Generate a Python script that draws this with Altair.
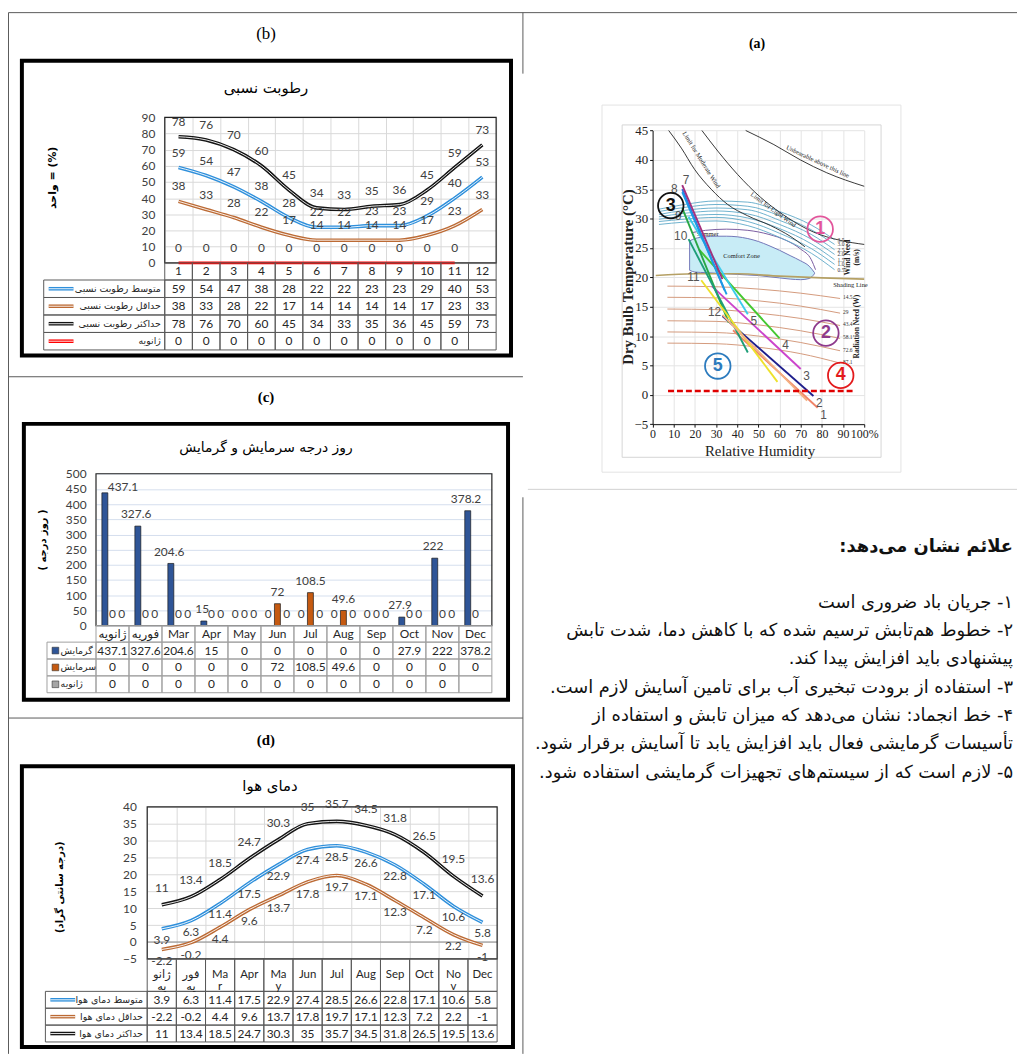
import altair as alt
import pandas as pd

OX, OY = 8, 8
W, H = 1017, 1050


def X(v):
    return v - OX


def Y(v):
    return v - OY


FA = "DejaVu Sans"
NUM = "Lato, DejaVu Sans"
SERIF = "Liberation Serif"
SANS = "Liberation Sans"

months = [1, 2, 3, 4, 5, 6, 7, 8, 9, 10, 11, 12]

# ---------------- (b) relative humidity ----------------
b_label = "(b)"
b_title = "رطوبت نسبی"
b_ytitle = "واحد = (%)"
b_names = ["متوسط رطوبت نسبی", "حداقل رطوبت نسبی", "حداکثر رطوبت نسبی", "ژانویه"]
b_months = ["1", "2", "3", "4", "5", "6", "7", "8", "9", "10", "11", "12"]
rh_avg = [59, 54, 47, 38, 28, 22, 22, 23, 23, 29, 40, 53]
rh_min = [38, 33, 28, 22, 17, 14, 14, 14, 14, 17, 23, 33]
rh_max = [78, 76, 70, 60, 45, 34, 33, 35, 36, 45, 59, 73]
rh_jan = [0, 0, 0, 0, 0, 0, 0, 0, 0, 0, 0, None]
b_yticks = [0, 10, 20, 30, 40, 50, 60, 70, 80, 90]
b_colors = ["#2E8FDB", "#BC6A34", "#141414", "#FF0000"]

# ---------------- (c) degree days ----------------
c_label = "(c)"
c_title = "روز درجه سرمایش و گرمایش"
c_ytitle = "( روز درجه )"
c_names = ["گرمایش", "سرمایش", "ژانویه"]
c_months = ["ژانویه", "فوریه", "Mar", "Apr", "May", "Jun", "Jul", "Aug", "Sep", "Oct", "Nov", "Dec"]
heating = [437.1, 327.6, 204.6, 15, 0, 0, 0, 0, 0, 27.9, 222, 378.2]
cooling = [0, 0, 0, 0, 0, 72, 108.5, 49.6, 0, 0, 0, 0]
c_jan = [0, 0, 0, 0, 0, 0, 0, 0, 0, 0, 0, None]
c_yticks = [0, 50, 100, 150, 200, 250, 300, 350, 400, 450, 500]
c_colors = ["#2F5597", "#C55A11", "#A5A5A5"]

# ---------------- (d) air temperature ----------------
d_label = "(d)"
d_title = "دمای هوا"
d_ytitle = "(درجه سانتی گراد)"
d_names = ["متوسط دمای هوا", "حداقل دمای هوا", "حداکثر دمای هوا"]
d_months = ["ژانو\nیه", "فور\nیه", "Ma\nr", "Apr", "Ma\ny", "Jun", "Jul", "Aug", "Sep", "Oct", "No\nv", "Dec"]
t_avg = [3.9, 6.3, 11.4, 17.5, 22.9, 27.4, 28.5, 26.6, 22.8, 17.1, 10.6, 5.8]
t_min = [-2.2, -0.2, 4.4, 9.6, 13.7, 17.8, 19.7, 17.1, 12.3, 7.2, 2.2, -1]
t_max = [11, 13.4, 18.5, 24.7, 30.3, 35, 35.7, 34.5, 31.8, 26.5, 19.5, 13.6]
d_yticks = [-5, 0, 5, 10, 15, 20, 25, 30, 35, 40]
d_colors = ["#2E8FDB", "#BC6A34", "#141414"]

# ---------------- (a) bioclimatic chart ----------------
a_label = "(a)"
a_xticks = [0, 10, 20, 30, 40, 50, 60, 70, 80, 90, 100]
a_yticks = [-5, 0, 5, 10, 15, 20, 25, 30, 35, 40, 45]
a_ytitle = "Dry Bulb Temperature (°C)"
a_xtitle = "Relative Humidity"
unb_rh = [44, 57.3, 69.8, 82.3, 100]
unb_t = [45.0, 42.6, 40.0, 37.8, 35.5]
lw_rh = [23.3, 30.8, 40.2, 51.1, 63.6, 76.1, 88.6, 100]
lw_t = [45.0, 41.5, 37.5, 33.6, 30.2, 27.7, 26.3, 25.6]
mw_rh = [7.6, 13.6, 19.8, 27.7, 35.5, 44.8, 55.8, 65.0, 72.0]
mw_t = [45.0, 42.0, 38.4, 35.0, 32.4, 30.5, 28.8, 27.0, 25.2]
wind_rh = [3, 15, 30, 45, 60, 75, 86]
wind_t = [
    [31.6, 32.4, 33.0, 32.8, 31.2, 28.9, 26.4],
    [31.2, 31.9, 32.4, 32.1, 30.5, 28.1, 25.6],
    [30.7, 31.4, 31.8, 31.5, 29.7, 27.3, 24.7],
    [30.3, 30.9, 31.3, 30.8, 29.0, 26.5, 23.9],
    [29.9, 30.4, 30.7, 30.1, 28.3, 25.7, 23.0],
    [29.5, 29.9, 30.2, 29.5, 27.5, 24.9, 22.2],
    [29.0, 29.4, 29.6, 28.8, 26.8, 24.1, 21.3],
]
wind_lab = ["3.5", "3.0", "2.5", "2.0", "1.5", "1.0", "0.5"]
cz_rh = [17.5, 20, 25, 30, 35, 40, 45, 50, 55, 60, 65, 70, 74, 76.5]
cz_top = [26.2, 26.6, 26.9, 27.0, 27.0, 26.9, 26.6, 26.1, 25.4, 24.6, 23.7, 22.8, 21.9, 20.8]
cz_bot = [21.2, 20.9, 20.8, 20.7, 20.6, 20.5, 20.4, 20.3, 20.1, 19.9, 19.7, 19.6, 19.8, 20.6]
sum_rh = [18.5, 25, 35, 45, 55, 63, 70, 75, 77]
sum_t = [27.6, 28.0, 28.2, 28.0, 27.3, 26.3, 24.8, 23.0, 21.3]
shade_rh = [1.5, 20, 40, 60, 80, 100]
shade_t = [20.3, 20.6, 20.6, 20.2, 19.9, 19.7]
rad_rh = [7, 30, 50, 70, 88.6]
rad_t = [
    [18.5, 18.4, 18.0, 17.3, 16.4],
    [16.6, 16.5, 16.0, 15.1, 13.9],
    [14.6, 14.5, 13.9, 13.0, 11.8],
    [12.6, 12.5, 11.9, 10.9, 9.6],
    [10.7, 10.6, 10.0, 8.9, 7.5],
    [8.8, 8.7, 8.1, 7.0, 5.4],
]
rad_lab = ["14.5", "29", "43.4", "58.1", "72.6", "87.1"]
frz_rh = [7.3, 94.8]
frz_t = [0.63, 0.63]
mo_colors = ["#F08468", "#1E1E8C", "#CC44CC", "#44C830", "#3CCBEB", "#2F6FE0",
             "#A3307D", "#1C9CE6", "#28A745", "#1E9E78", "#EDE12B", "#F4B183"]
lab_end_months = [1, 2, 3, 4, 5]
lab_topleft_months = [8, 10, 11, 12]
lab_low_months = [9]
lab_topright_months = [7]
circ_lab = ["1", "2", "3", "4", "5"]
circ_rh = [79.2, 81.9, 8.6, 88.9, 30.8]
circ_t = [28.2, 10.5, 32.2, 3.3, 4.9]
circ_col = ["#E2559B", "#8E3A8C", "#111111", "#E31A1C", "#2C7BBE"]
a_notes = [
    ("Unbearable above this line", 78.0, 39.7, 25),
    ("Limit for Light Wind", 57.0, 31.5, 36),
    ("Limit for Moderate Wind", 23.0, 40.0, 58),
    ("Comfort Zone", 42.0, 23.7, 0),
    ("Summer", 26.0, 27.4, 0),
    ("Shading Line", 93.5, 18.7, 0),
]

# ---------------- text block ----------------
t_head = "علائم نشان می\u200cدهد:"
t_lines = [
    "۱- جریان باد ضروری است",
    "۲- خطوط هم\u200cتابش ترسیم شده که با کاهش دما، شدت تابش",
    "پیشنهادی باید افزایش پیدا کند.",
    "۳- استفاده از برودت تبخیری آب برای تامین آسایش لازم است.",
    "۴- خط انجماد: نشان می\u200cدهد که میزان تابش و استفاده از",
    "تأسیسات گرمایشی فعال باید افزایش یابد تا آسایش برقرار شود.",
    "۵- لازم است که از سیستم\u200cهای تجهیزات گرمایشی استفاده شود.",
]

RLM = "\u200f"
one = pd.DataFrame({"k": [0]})
L = []


def fmt(v):
    if v is None:
        return ""
    f = float(v)
    return str(int(f)) if f.is_integer() else str(v)


def vbox(x0, y0, x1, y1, stroke="black", sw=1.0):
    return alt.Chart(one).mark_rect(fill="white", fillOpacity=0, stroke=stroke, strokeWidth=sw).encode(
        x=alt.value(X(x0)), x2=alt.value(X(x1)), y=alt.value(Y(y0)), y2=alt.value(Y(y1)))


def vline(x0, y0, x1, y1, color="#595959", sw=1.0):
    return alt.Chart(one).mark_rule(color=color, strokeWidth=sw).encode(
        x=alt.value(X(x0)), x2=alt.value(X(x1)), y=alt.value(Y(y0)), y2=alt.value(Y(y1)))


def vtext(s, x, y, size=12, font=FA, weight="normal", angle=0, align="center", color="black", lb=False):
    kw = dict(fontSize=size, font=font, fontWeight=weight, align=align, baseline="middle", color=color)
    if angle:
        kw["angle"] = angle
    if lb:
        kw["lineBreak"] = "\n"
    return alt.Chart(one).mark_text(**kw).encode(x=alt.value(X(x)), y=alt.value(Y(y)), text=alt.value(s))


def band(domain, r0, r1):
    return alt.Scale(type="band", domain=domain, range=[r0, r1], paddingInner=0, paddingOuter=0)


def lin(domain, r0, r1):
    return alt.Scale(type="linear", domain=domain, range=[r0, r1], nice=False, zero=False)


def grid_layer(xband, yscale, x0, ytop, yticks, vgrid, gcolor, labpad):
    df = pd.DataFrame({"m": months, "v": [yticks[0]] * 12})
    xaxis = None
    if vgrid:
        # top-oriented grid axis: Vega maps its grid lines onto the y range directly
        xaxis = alt.Axis(orient="top", offset=-Y(ytop), grid=True, gridColor=gcolor, tickBand="extent",
                         labels=False, ticks=False, domain=False, title=None)
    yaxis = alt.Axis(orient="left", offset=-X(x0), values=yticks, grid=True, gridColor=gcolor, ticks=False,
                     domain=False, labelPadding=labpad, labelFont=NUM, labelFontSize=12, labelColor="#404040",
                     labelOverlap=False, title=None)
    return alt.Chart(df).mark_point(opacity=0).encode(
        x=alt.X("m:O", scale=xband, axis=xaxis), y=alt.Y("v:Q", scale=yscale, axis=yaxis))


def long_df(names, series):
    rows = []
    for n, arr in zip(names, series):
        for m, v in zip(months, arr):
            if v is not None:
                rows.append({"m": m, "v": v, "s": n, "t": fmt(v)})
    return pd.DataFrame(rows)


def double_lines(df, xs, ys, names, colors, sw=3.6):
    cs = alt.Scale(domain=names, range=colors)
    ex = alt.X("m:Q", scale=xs, axis=None)
    ey = alt.Y("v:Q", scale=ys, axis=None)
    outer = alt.Chart(df).mark_line(strokeWidth=sw, interpolate="monotone").encode(
        x=ex, y=ey, color=alt.Color("s:N", scale=cs, legend=None))
    inner = alt.Chart(df).mark_line(strokeWidth=0.9, interpolate="monotone", color="white").encode(
        x=ex, y=ey, detail="s:N")
    return [outer, inner]


def build_table(mlabels, names, series, xband, lab_x0, lab_x1, my0, my1, ry0, ry1, stroke, colors, swatch,
                text_x, text_align, mline=False, lab_size=9.5):
    res = []
    ms = band(["m"], Y(my0), Y(my1))
    rs = band(names, Y(ry0), Y(ry1))
    ls = band(["lab"], X(lab_x0), X(lab_x1))
    mdf = pd.DataFrame({"m": months, "r": ["m"] * 12, "t": mlabels})
    cdf = pd.DataFrame([{"m": m, "r": n, "t": fmt(v)} for n, arr in zip(names, series) for m, v in zip(months, arr)])
    ldf = pd.DataFrame({"c": ["lab"] * len(names), "r": names})
    rk = dict(fill="white", fillOpacity=0, stroke=stroke, strokeWidth=1)
    xm = alt.X("m:O", scale=xband, axis=None)
    xmc = alt.X("m:O", scale=xband, axis=None, bandPosition=0.5)
    res.append(alt.Chart(mdf).mark_rect(**rk).encode(x=xm, y=alt.Y("r:N", scale=ms, axis=None)))
    res.append(alt.Chart(cdf).mark_rect(**rk).encode(x=xm, y=alt.Y("r:N", scale=rs, axis=None)))
    res.append(alt.Chart(ldf).mark_rect(**rk).encode(x=alt.X("c:N", scale=ls, axis=None),
                                                     y=alt.Y("r:N", scale=rs, axis=None)))
    tk = dict(font=NUM, fontSize=12, color="#262626", baseline="middle")
    if mline:
        tk.update(lineBreak="\n", lineHeight=12, fontSize=11.5)
    res.append(alt.Chart(mdf).mark_text(**tk).encode(
        x=xmc, y=alt.Y("r:N", scale=ms, axis=None, bandPosition=0.5), text="t:N"))
    yc = alt.Y("r:N", scale=rs, axis=None, bandPosition=0.5)
    res.append(alt.Chart(cdf).mark_text(font=NUM, fontSize=12, color="#262626", baseline="middle").encode(
        x=xmc, y=yc, text="t:N"))
    cs = alt.Scale(domain=names, range=colors)
    if swatch == "line":
        res.append(alt.Chart(ldf).mark_rule(strokeWidth=3.6).encode(
            x=alt.value(X(lab_x0 + 5)), x2=alt.value(X(lab_x0 + 30)), y=yc,
            color=alt.Color("r:N", scale=cs, legend=None)))
        res.append(alt.Chart(ldf).mark_rule(strokeWidth=0.9, color="white").encode(
            x=alt.value(X(lab_x0 + 5)), x2=alt.value(X(lab_x0 + 30)), y=yc))
    else:
        res.append(alt.Chart(ldf).mark_square(size=45, opacity=1, stroke="#333333", strokeWidth=0.6).encode(
            x=alt.value(X(lab_x0 + 8.5)), y=yc, fill=alt.Fill("r:N", scale=cs, legend=None)))
    res.append(alt.Chart(ldf).mark_text(font=FA, fontSize=lab_size, align=text_align, baseline="middle",
                                        color="#262626").encode(x=alt.value(X(text_x)), y=yc, text="r:N"))
    return res


# ================= outer frame =================
L.append(vline(8.5, 8.5, 1025, 8.5))
L.append(vline(8.5, 8.5, 8.5, 1058))
L.append(vline(8.5, 375.5, 527, 375.5))
L.append(vline(8.5, 719.5, 527, 719.5))
L.append(vline(527, 8.5, 527, 70))
L.append(vline(527, 497, 527, 1058))
L.append(vline(532, 489, 1025, 489, color="#d0d0d0"))

# ================= panel (b) =================
bx0, bx1, by0, by1 = 166, 500, 260.7, 114
b_band = band(months, X(bx0), X(bx1))
b_x = lin([0.5, 12.5], X(bx0), X(bx1))
b_y = lin([0, 90], Y(by0), Y(by1))
L.append(vtext(b_label, 268, 30, size=17, font=SERIF))
L.append(vbox(22, 57, 515, 354, sw=4))
L.append(vtext(b_title, 268, 85, size=15))
L.append(vtext(b_ytitle, 53, 175, size=11, weight="bold", angle=270))
L.append(grid_layer(b_band, b_y, bx0, by1, b_yticks, True, "#d9d9d9", 10))
L.append(vbox(bx0, by1, bx1, by0, stroke="#222222", sw=1.2))
b_df = long_df(b_names[:3], [rh_avg, rh_min, rh_max])
L.extend(double_lines(b_df, b_x, b_y, b_names[:3], b_colors[:3]))
b_jan_df = long_df([b_names[3]], [rh_jan])
L.append(alt.Chart(b_jan_df).mark_line(color="#FF0000", strokeWidth=2.6).encode(
    x=alt.X("m:Q", scale=b_x, axis=None), y=alt.Y("v:Q", scale=b_y, axis=None)))
b_all = long_df(b_names, [rh_avg, rh_min, rh_max, rh_jan])
L.append(alt.Chart(b_all).mark_text(font=NUM, fontSize=12, color="#404040", dy=-15).encode(
    x=alt.X("m:Q", scale=b_x, axis=None), y=alt.Y("v:Q", scale=b_y, axis=None), text="t:N"))
L.extend(build_table(b_months, b_names, [rh_avg, rh_min, rh_max, rh_jan], b_band, 44, bx0, by0, 278,
                     278, 348.5, "#595959", b_colors, "line", 162, "right"))

# ================= panel (c) =================
cx0, cx1, cy0, cy1 = 96.7, 495.7, 626.3, 473.3
c_band = band(months, X(cx0), X(cx1))
c_y = lin([0, 500], Y(cy0), Y(cy1))
L.append(vtext(c_label, 268, 396, size=15, font=SERIF, weight="bold"))
L.append(vbox(24, 423, 512, 701, sw=4))
L.append(vtext(c_title, 268, 447, size=14))
L.append(vtext(c_ytitle, 43, 540, size=10, weight="bold", angle=270))
L.append(grid_layer(c_band, c_y, cx0, cy1, c_yticks, False, "#d5dfee", 10))
L.append(vbox(cx0, cy1, cx1, cy0, stroke="#222222", sw=1.2))
c_all = long_df(c_names, [heating, cooling, c_jan])
c_bars = c_all[c_all["v"] > 0]
c_off = alt.Scale(domain=c_names, paddingInner=0.22, paddingOuter=0.77)
L.append(alt.Chart(c_bars).mark_bar(stroke="#1a1a1a", strokeWidth=0.7).encode(
    x=alt.X("m:O", scale=c_band, axis=None),
    xOffset=alt.XOffset("s:N", scale=c_off),
    y=alt.Y("v:Q", scale=c_y, axis=None),
    fill=alt.Fill("s:N", scale=alt.Scale(domain=c_names, range=c_colors), legend=None)))
c_lab_low = c_all[c_all["v"] < 420]
c_lab_high = c_all[c_all["v"] >= 420]
L.append(alt.Chart(c_lab_low).mark_text(font=NUM, fontSize=12, color="#404040", dy=-12).encode(
    x=alt.X("m:O", scale=c_band, axis=None),
    xOffset=alt.XOffset("s:N", scale=c_off),
    y=alt.Y("v:Q", scale=c_y, axis=None), text="t:N"))
# label near the plot top is nudged to the right of its bar, as in the source chart
L.append(alt.Chart(c_lab_high).mark_text(font=NUM, fontSize=12, color="#404040", dy=-6, dx=20).encode(
    x=alt.X("m:O", scale=c_band, axis=None),
    xOffset=alt.XOffset("s:N", scale=c_off),
    y=alt.Y("v:Q", scale=c_y, axis=None), text="t:N"))
L.extend(build_table(c_months, c_names, [heating, cooling, c_jan], c_band, 47.3, cx0, cy0, 643,
                     643, 694, "#a0a0a0", c_colors, "square", 61, "left"))

# ================= panel (d) =================
dx0, dx1, dy0, dy1 = 148.3, 501, 962.3, 809
d_band = band(months, X(dx0), X(dx1))
d_x = lin([0.5, 12.5], X(dx0), X(dx1))
d_y = lin([-5, 40], Y(dy0), Y(dy1))
L.append(vtext(d_label, 268, 742, size=15, font=SERIF, weight="bold"))
L.append(vbox(22, 768, 517, 1051, sw=4))
L.append(vtext(d_title, 272, 788, size=15))
L.append(vtext(d_ytitle, 60, 890, size=10, weight="bold", angle=270))
L.append(grid_layer(d_band, d_y, dx0, dy1, d_yticks, True, "#d9d9d9", 11))
L.append(alt.Chart(pd.DataFrame({"v": [0]})).mark_rule(color="#8c8c8c", strokeWidth=1).encode(
    y=alt.Y("v:Q", scale=d_y, axis=None), x=alt.value(X(dx0)), x2=alt.value(X(dx1))))
L.append(vbox(dx0, dy1, dx1, dy0, stroke="#222222", sw=1.2))
d_df = long_df(d_names, [t_avg, t_min, t_max])
L.extend(double_lines(d_df, d_x, d_y, d_names, d_colors))
for name, arr, off in [(d_names[2], t_max, -17), (d_names[0], t_avg, 11), (d_names[1], t_min, 12)]:
    L.append(alt.Chart(long_df([name], [arr])).mark_text(font=NUM, fontSize=12, color="#404040", dy=off).encode(
        x=alt.X("m:Q", scale=d_x, axis=None), y=alt.Y("v:Q", scale=d_y, axis=None), text="t:N"))
L.extend(build_table(d_months, d_names, [t_avg, t_min, t_max], d_band, 45.7, dx0, dy0, 995,
                     995, 1046, "#595959", d_colors, "line", 144, "right", mline=True))

# ================= panel (a) =================
ax0, ax1, ay0, ay1 = 657.7, 871, 423.3, 127.3
a_x = lin([0, 100], X(ax0), X(ax1))
a_y = lin([-5, 45], Y(ay0), Y(ay1))
L.append(vtext(a_label, 763, 40, size=14, font=SERIF, weight="bold"))
L.append(vbox(606.7, 101.7, 908, 471.7, stroke="#e3e3e3"))
L.append(vbox(627, 121.7, 888, 456.7, stroke="#d6d6d6"))
a_axis_df = pd.DataFrame({"x": [0], "y": [0]})
# grid (top oriented so the grid lines sit on the plot's y range)
L.append(alt.Chart(a_axis_df).mark_point(opacity=0).encode(
    x=alt.X("x:Q", scale=a_x, axis=alt.Axis(
        orient="top", offset=-Y(ay1), values=a_xticks, grid=True, gridColor="#e4e4e4",
        labels=False, ticks=False, domain=False, title=None)),
    y=alt.Y("y:Q", scale=a_y, axis=alt.Axis(
        orient="left", offset=-X(ax0), values=a_yticks, grid=True, gridColor="#e4e4e4",
        domainColor="#111111", tickColor="#111111", tickSize=3, labelFont=SERIF, labelFontSize=13,
        labelColor="#222222", labelPadding=2, labelOverlap=False, title=None))))
# bottom axis with labels
L.append(alt.Chart(a_axis_df).mark_point(opacity=0).encode(
    x=alt.X("x:Q", scale=a_x, axis=alt.Axis(
        orient="bottom", offset=Y(ay0) - H, values=a_xticks, grid=False,
        domainColor="#111111", tickColor="#111111", tickSize=3, labelFont=SERIF, labelFontSize=12,
        labelColor="#222222", labelPadding=1, labelFlush=False, labelOverlap=False, title=None,
        labelExpr="datum.value == 100 ? '100%' : datum.label")),
    y=alt.Y("y:Q", scale=a_y, axis=None)))
L.append(vtext(a_ytitle, 633, 275, size=15, font=SERIF, weight="bold", angle=270, color="#222222"))
L.append(vtext(a_xtitle, 766, 450, size=15, font=SERIF, color="#222222"))

ex_a = lambda f: alt.X(f, scale=a_x, axis=None)
ey_a = lambda f: alt.Y(f, scale=a_y, axis=None)

# comfort zone
cz_df = pd.DataFrame({"rh": cz_rh, "top": cz_top, "bot": cz_bot})
L.append(alt.Chart(cz_df).mark_area(fill="#c8ecf6", stroke="#7276b8", strokeWidth=1, interpolate="monotone").encode(
    x=ex_a("rh:Q"), y=ey_a("top:Q"), y2="bot:Q"))
L.append(alt.Chart(pd.DataFrame({"rh": sum_rh, "t": sum_t})).mark_line(
    color="#7a5ca0", strokeWidth=1, interpolate="monotone").encode(x=ex_a("rh:Q"), y=ey_a("t:Q")))
# wind lines
wind_df = pd.DataFrame([{"g": wind_lab[j], "rh": r, "t": t} for j in range(len(wind_t))
                        for r, t in zip(wind_rh, wind_t[j])])
L.append(alt.Chart(wind_df).mark_line(color="#5da8c8", strokeWidth=0.9, interpolate="monotone").encode(
    x=ex_a("rh:Q"), y=ey_a("t:Q"), detail="g:N"))
wind_lab_df = pd.DataFrame({"rh": [wind_rh[-1]] * len(wind_lab), "t": [w[-1] for w in wind_t], "s": wind_lab})
L.append(alt.Chart(wind_lab_df).mark_text(font=SERIF, fontSize=5.5, align="left", dx=3, color="#333333").encode(
    x=ex_a("rh:Q"), y=ey_a("t:Q"), text="s:N"))
# shading and radiation lines
L.append(alt.Chart(pd.DataFrame({"rh": shade_rh, "t": shade_t})).mark_line(
    color="#b5a064", strokeWidth=1.6, interpolate="monotone").encode(x=ex_a("rh:Q"), y=ey_a("t:Q")))
rad_df = pd.DataFrame([{"g": rad_lab[j], "rh": r, "t": t} for j in range(len(rad_t))
                       for r, t in zip(rad_rh, rad_t[j])])
L.append(alt.Chart(rad_df).mark_line(color="#d39a7c", strokeWidth=1, interpolate="monotone").encode(
    x=ex_a("rh:Q"), y=ey_a("t:Q"), detail="g:N"))
rad_lab_df = pd.DataFrame({"rh": [rad_rh[-1]] * len(rad_lab), "t": [r[-1] for r in rad_t], "s": rad_lab})
L.append(alt.Chart(rad_lab_df).mark_text(font=SERIF, fontSize=5.5, align="left", dx=3, dy=-1,
                                         color="#333333").encode(
    x=ex_a("rh:Q"), y=ey_a("t:Q"), text="s:N"))
# limit curves
for rr, tt in [(unb_rh, unb_t), (lw_rh, lw_t), (mw_rh, mw_t)]:
    L.append(alt.Chart(pd.DataFrame({"rh": rr, "t": tt})).mark_line(
        color="#222222", strokeWidth=0.9, interpolate="monotone").encode(x=ex_a("rh:Q"), y=ey_a("t:Q")))
for s, r, t, ang in a_notes:
    kw = dict(font=SERIF, fontSize=6.5, color="#222222")
    if ang:
        kw["angle"] = ang
    L.append(alt.Chart(pd.DataFrame({"rh": [r], "t": [t], "s": [s]})).mark_text(**kw).encode(
        x=ex_a("rh:Q"), y=ey_a("t:Q"), text="s:N"))
L.append(alt.Chart(pd.DataFrame({"rh": [92.3], "t": [23.4], "s": ["Wind Need\n(m/s)"]})).mark_text(
    font=SERIF, fontSize=7.5, fontWeight="bold", angle=270, lineBreak="\n", color="#222222").encode(
    x=ex_a("rh:Q"), y=ey_a("t:Q"), text="s:N"))
L.append(alt.Chart(pd.DataFrame({"rh": [96.6], "t": [11.6], "s": ["Radiation Need (W)"]})).mark_text(
    font=SERIF, fontSize=7.5, fontWeight="bold", angle=270, color="#222222").encode(
    x=ex_a("rh:Q"), y=ey_a("t:Q"), text="s:N"))
# monthly lines
mo_df = pd.DataFrame([{"mo": str(m), "rh": r, "t": t} for m, r1, r2, t1, t2 in
                      zip(months, rh_min, rh_max, t_max, t_min) for r, t in [(r1, t1), (r2, t2)]])
mo_scale = alt.Scale(domain=[str(m) for m in months], range=mo_colors)
L.append(alt.Chart(mo_df).mark_line(strokeWidth=1.9).encode(
    x=ex_a("rh:Q"), y=ey_a("t:Q"), color=alt.Color("mo:N", scale=mo_scale, legend=None)))


def top_pts(ms):
    return pd.DataFrame([{"s": str(m), "rh": rh_min[m - 1], "t": t_max[m - 1]} for m in ms])


end_df = pd.DataFrame([{"s": str(m), "rh": rh_max[m - 1], "t": t_min[m - 1]} for m in lab_end_months])
L.append(alt.Chart(end_df).mark_text(font=SANS, fontSize=12, color="#555555", dx=6, dy=7).encode(
    x=ex_a("rh:Q"), y=ey_a("t:Q"), text="s:N"))
L.append(alt.Chart(top_pts(lab_topleft_months)).mark_text(font=SANS, fontSize=12, color="#555555", dx=-8, dy=-3).encode(
    x=ex_a("rh:Q"), y=ey_a("t:Q"), text="s:N"))
L.append(alt.Chart(top_pts(lab_low_months)).mark_text(font=SANS, fontSize=12, color="#555555", dx=-4, dy=8).encode(
    x=ex_a("rh:Q"), y=ey_a("t:Q"), text="s:N"))
L.append(alt.Chart(top_pts(lab_topright_months)).mark_text(font=SANS, fontSize=12, color="#555555", dx=4, dy=-5).encode(
    x=ex_a("rh:Q"), y=ey_a("t:Q"), text="s:N"))
# freezing line
L.append(alt.Chart(pd.DataFrame({"rh": frz_rh, "t": frz_t})).mark_line(
    color="#e00000", strokeWidth=2.5, strokeDash=[6, 3]).encode(x=ex_a("rh:Q"), y=ey_a("t:Q")))
# numbered circles
circ_df = pd.DataFrame({"s": circ_lab, "rh": circ_rh, "t": circ_t})
circ_scale = alt.Scale(domain=circ_lab, range=circ_col)
L.append(alt.Chart(circ_df).mark_point(shape="circle", size=660, filled=False, strokeWidth=1.8, opacity=1).encode(
    x=ex_a("rh:Q"), y=ey_a("t:Q"), color=alt.Color("s:N", scale=circ_scale, legend=None)))
L.append(alt.Chart(circ_df).mark_text(font=SANS, fontSize=18, fontWeight="bold").encode(
    x=ex_a("rh:Q"), y=ey_a("t:Q"), text="s:N", color=alt.Color("s:N", scale=circ_scale, legend=None)))

# ================= text block =================
L.append(vtext(RLM + t_head + RLM, 1021, 547, size=18, weight="bold", align="right", color="#111111"))
tl_df = pd.DataFrame({"i": list(range(len(t_lines))), "s": [RLM + s + RLM for s in t_lines]})
L.append(alt.Chart(tl_df).mark_text(font=FA, fontSize=18, align="right", baseline="middle", color="#111111").encode(
    x=alt.value(X(1021)),
    y=alt.Y("i:O", scale=alt.Scale(type="point", domain=list(range(len(t_lines))),
                                   range=[Y(603.5), Y(774.5)], padding=0), axis=None),
    text="s:N"))

chart = alt.layer(*L).resolve_scale(
    x="independent", y="independent", color="independent", fill="independent", xOffset="independent"
).properties(
    width=W, height=H, padding=0, autosize=alt.AutoSizeParams(type="none"), background="white"
).configure_view(strokeWidth=0)

chart.save("out.html", embed_options={"renderer": "svg", "actions": False})
